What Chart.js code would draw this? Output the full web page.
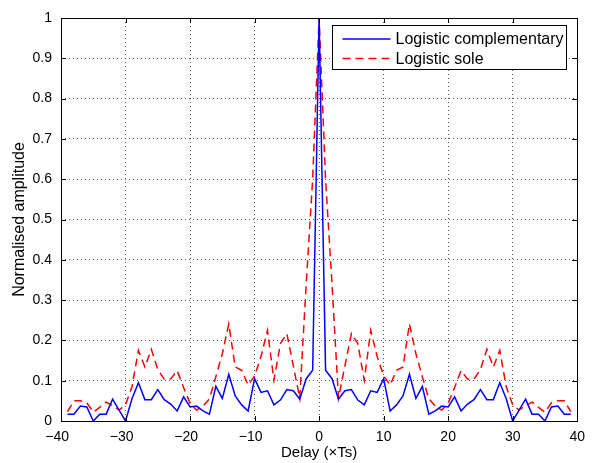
<!DOCTYPE html>
<html>
<head>
<meta charset="utf-8">
<script src="https://cdn.jsdelivr.net/npm/chart.js@4.4.1/dist/chart.umd.min.js"></script>
<style>
  html, body { margin: 0; padding: 0; background: #fff; }
  #wrap { width: 593px; height: 463px; position: relative; }
</style>
</head>
<body>
<div id="wrap"><canvas id="c" width="593" height="463"></canvas></div>
<script>
// ---- data ----
const delays = [-39,-38,-37,-36,-35,-34,-33,-32,-31,-30,-29,-28,-27,-26,-25,-24,-23,-22,-21,-20,
  -19,-18,-17,-16,-15,-14,-13,-12,-11,-10,-9,-8,-7,-6,-5,-4,-3,-2,-1,0,
  1,2,3,4,5,6,7,8,9,10,11,12,13,14,15,16,17,18,19,20,
  21,22,23,24,25,26,27,28,29,30,31,32,33,34,35,36,37,38,39];

const complementary = [0.017,0.017,0.037,0.035,0,0.017,0.017,0.054,0.027,0,0.055,0.095,0.053,0.053,0.078,0.053,0.042,0.025,0.06,0.035,
  0.037,0.025,0.017,0.086,0.056,0.116,0.062,0.04,0.025,0.105,0.071,0.075,0.04,0.052,0.078,0.075,0.054,0.105,0.126,1,
  0.126,0.105,0.054,0.075,0.078,0.052,0.04,0.075,0.071,0.105,0.025,0.04,0.062,0.116,0.056,0.086,0.017,0.025,0.037,0.035,
  0.06,0.025,0.042,0.053,0.078,0.053,0.053,0.095,0.055,0,0.027,0.054,0.017,0.017,0,0.035,0.037,0.017,0.017];

const sole = [0.023,0.05,0.05,0.045,0.022,0.034,0.047,0.038,0.027,0.04,0.085,0.175,0.134,0.178,0.128,0.104,0.104,0.125,0.083,0.044,
  0.027,0.037,0.055,0.11,0.167,0.241,0.134,0.126,0.089,0.112,0.16,0.225,0.101,0.192,0.217,0.137,0.057,0.34,0.6,1,
  0.6,0.34,0.057,0.137,0.217,0.192,0.101,0.225,0.16,0.112,0.089,0.126,0.134,0.241,0.167,0.11,0.055,0.037,0.027,0.044,
  0.083,0.125,0.104,0.104,0.128,0.178,0.134,0.175,0.085,0.04,0.027,0.038,0.047,0.034,0.022,0.045,0.05,0.05,0.023];

const seriesLabels = ['Logistic complementary', 'Logistic sole'];
const xTickValues = [-40,-30,-20,-10,0,10,20,30,40];
const yTickValues = [0,0.1,0.2,0.3,0.4,0.5,0.6,0.7,0.8,0.9,1];
const xTitle = 'Delay (\u00d7Ts)';
const yTitle = 'Normalised amplitude';

const FONT = '"Liberation Sans", Arial, Helvetica, sans-serif';

function pts(ys) { return delays.map((d, i) => ({ x: d, y: ys[i] })); }

// frame + inward ticks (MATLAB style)
const framePlugin = {
  id: 'frame',
  afterDatasetsDraw(chart) {
    const { ctx, chartArea: a, scales } = chart;
    const L = 5;
    ctx.save();
    ctx.strokeStyle = '#000';
    ctx.lineWidth = 1;
    ctx.beginPath();
    xTickValues.forEach(v => {
      const px = Math.round(scales.x.getPixelForValue(v)) + 0.5;
      ctx.moveTo(px, a.bottom); ctx.lineTo(px, a.bottom - L);
      ctx.moveTo(px, a.top); ctx.lineTo(px, a.top + L);
    });
    yTickValues.forEach(v => {
      const py = Math.round(scales.y.getPixelForValue(v)) + 0.5;
      ctx.moveTo(a.left, py); ctx.lineTo(a.left + L, py);
      ctx.moveTo(a.right, py); ctx.lineTo(a.right - L, py);
    });
    ctx.stroke();
    ctx.strokeRect(Math.round(a.left) + 0.5, Math.round(a.top) + 0.5,
      Math.round(a.right - a.left), Math.round(a.bottom - a.top));
    ctx.restore();
  }
};

// legend box inside plot, top-right
const legendPlugin = {
  id: 'boxLegend',
  afterDraw(chart) {
    const { ctx, chartArea: a } = chart;
    const w = 234, h = 44;
    const x0 = Math.round(a.right) - 11 - w + 0.5;
    const y0 = Math.round(a.top) + 7 + 0.5;
    ctx.save();
    ctx.fillStyle = '#fff';
    ctx.fillRect(x0, y0, w, h);
    ctx.strokeStyle = '#000';
    ctx.lineWidth = 1;
    ctx.strokeRect(x0, y0, w, h);
    ctx.font = '16px ' + FONT;
    ctx.textBaseline = 'middle';
    ctx.textAlign = 'left';
    chart.data.datasets.forEach((ds, i) => {
      const cy = y0 + 13.5 + i * 19.5;
      ctx.strokeStyle = ds.borderColor;
      ctx.lineWidth = ds.borderWidth;
      ctx.setLineDash(ds.borderDash || []);
      ctx.beginPath();
      ctx.moveTo(x0 + 10, cy);
      ctx.lineTo(x0 + 58, cy);
      ctx.stroke();
      ctx.setLineDash([]);
      ctx.fillStyle = '#000';
      ctx.fillText(ds.label, x0 + 63, cy + 1);
    });
    ctx.restore();
  }
};

const fmtY = v => String(+(+v).toFixed(1));
// MATLAB centres the digits on the tick and lets the minus sign hang to the left
const fmtX = v => (v < 0 ? '\u2212' + Math.abs(v) + '\u00a0\u00a0' : String(v));

new Chart(document.getElementById('c'), {
  type: 'line',
  data: {
    datasets: [
      { label: seriesLabels[0], data: pts(complementary), borderColor: '#0000ff', borderWidth: 1.5,
        pointRadius: 0, tension: 0, fill: false },
      { label: seriesLabels[1], data: pts(sole), borderColor: '#ff0000', borderWidth: 1.5,
        borderDash: [8, 5], pointRadius: 0, tension: 0, fill: false }
    ]
  },
  options: {
    responsive: false,
    animation: false,
    layout: { padding: { top: 18, right: 11, left: 0, bottom: 0 } },
    plugins: { legend: { display: false }, tooltip: { enabled: false } },
    scales: {
      x: {
        type: 'linear', min: -40, max: 40,
        afterBuildTicks: s => { s.ticks = xTickValues.map(v => ({ value: v })); },
        afterFit: s => { s.height = 42; },
        ticks: { callback: fmtX, color: '#000', font: { size: 14, family: FONT }, padding: 8, maxRotation: 0 },
        grid: { color: 'rgba(0,0,0,0.65)', lineWidth: 1, drawTicks: false, borderDash: [1, 3] },
        border: { display: false, dash: [1, 3] },
        title: { display: true, text: xTitle, color: '#000', font: { size: 15, family: FONT }, padding: { top: 0, bottom: 1 } }
      },
      y: {
        type: 'linear', min: 0, max: 1,
        afterBuildTicks: s => { s.ticks = yTickValues.map(v => ({ value: v })); },
        afterFit: s => { s.width = 61; },
        ticks: { callback: fmtY, color: '#000', font: { size: 14, family: FONT }, padding: 9 },
        grid: { color: 'rgba(0,0,0,0.65)', lineWidth: 1, drawTicks: false, borderDash: [1, 3] },
        border: { display: false, dash: [1, 3] },
        title: { display: true, text: yTitle, color: '#000', font: { size: 16, family: FONT }, padding: { top: 10, bottom: 0 } }
      }
    }
  },
  plugins: [framePlugin, legendPlugin]
});
</script>
</body>
</html>
